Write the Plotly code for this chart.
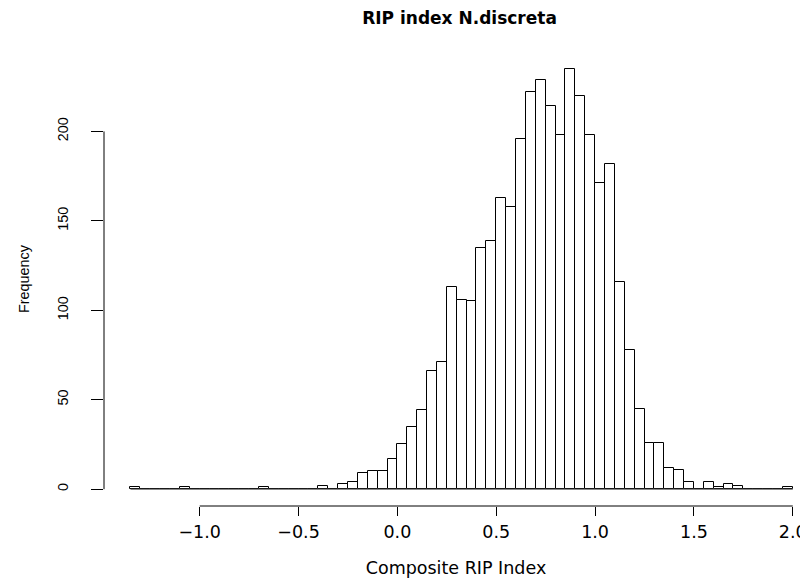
import numpy as np
import plotly.graph_objects as go

# Histogram bins (left edges) and counts
bin_width = 0.05
bin_left = np.round(np.arange(-1.35, 2.0 - 1e-9, bin_width), 2)
counts = [
    1, 0, 0, 0, 0, 1, 0, 0, 0, 0, 0, 0, 0, 1, 0, 0, 0, 0, 0, 2,
    0, 3, 4, 9, 10, 10, 17, 25, 35, 44, 66, 71, 113, 106, 105, 135, 139, 163, 158, 196,
    222, 229, 214, 198, 235, 220, 198, 171, 182, 116, 78, 45, 26, 26, 12, 11, 4, 0, 4, 1,
    3, 2, 0, 0, 0, 0, 1,
]
x_tickvals = [-1.0, -0.5, 0.0, 0.5, 1.0, 1.5, 2.0]
x_ticktext = ["\u22121.0", "\u22120.5", "0.0", "0.5", "1.0", "1.5", "2.0"]
y_tickvals = [0, 50, 100, 150, 200]
y_ticktext = ["0", "50", "100", "150", "200"]

centers = bin_left + bin_width / 2
hfont = "DejaVu Sans, Liberation Sans, Arial, sans-serif"
vfont = "Liberation Sans, Arial, Helvetica, sans-serif"

fig = go.Figure()
# zero-height bins show as a baseline
fig.add_trace(go.Scatter(
    x=[bin_left[0], bin_left[-1] + bin_width], y=[0, 0], mode="lines",
    line=dict(color="#555555", width=1), hoverinfo="skip", showlegend=False))
fig.add_trace(go.Bar(
    x=centers, y=counts, width=bin_width,
    marker=dict(color="white", line=dict(color="black", width=1)),
    showlegend=False))

# R-style axis lines spanning only the tick range
fig.add_shape(type="line", xref="x", yref="paper",
              x0=x_tickvals[0], x1=x_tickvals[-1], y0=0, y1=0,
              line=dict(color="black", width=1))
fig.add_shape(type="line", xref="paper", yref="y",
              x0=0, x1=0, y0=y_tickvals[0], y1=y_tickvals[-1],
              line=dict(color="black", width=1))

# page body has an 8px margin, so the figure is sized 800x574
fig.update_layout(
    width=800, height=574,
    margin=dict(l=96, r=0, t=44, b=76, autoexpand=False),
    paper_bgcolor="white", plot_bgcolor="white",
    font=dict(family=vfont, size=14, color="black"),
    bargap=0,
    title=dict(text="<b>RIP index N.discreta</b>", x=0.505, xref="paper",
               xanchor="center", y=1 - 10 / 574, yref="container",
               yanchor="middle",
               font=dict(size=17, family=hfont, color="black")),
    xaxis=dict(range=[-1.484, 2.077], showgrid=False, zeroline=False,
               showline=False, automargin=False, tickmode="array",
               tickvals=x_tickvals, ticktext=x_ticktext, ticks="outside",
               ticklen=9, tickcolor="black", tickwidth=1,
               ticklabelstandoff=1,
               tickfont=dict(family=hfont, size=17.5),
               title=dict(text="Composite RIP Index", standoff=20,
                          font=dict(family=hfont, size=17.5))),
    yaxis=dict(range=[-9.4, 244.4], showgrid=False, zeroline=False,
               showline=False, automargin=False, tickmode="array",
               tickvals=y_tickvals, ticktext=y_ticktext, ticks="outside",
               ticklen=12, tickcolor="black", tickwidth=1, tickangle=-90,
               ticklabelstandoff=17,
               tickfont=dict(family=vfont, size=14.4),
               title=dict(text="Frequency", standoff=22,
                          font=dict(family=vfont, size=14.4))),
)

fig.write_html("out.html")
